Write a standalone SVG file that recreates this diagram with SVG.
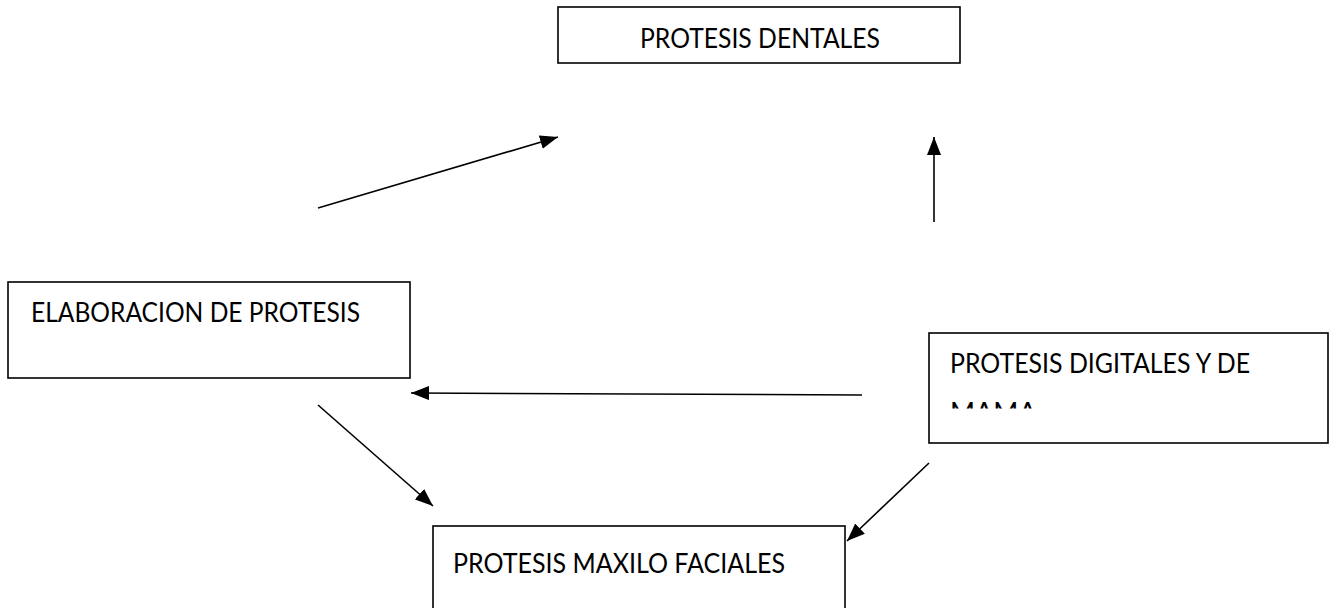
<svg xmlns="http://www.w3.org/2000/svg" width="1330" height="608" viewBox="0 0 1330 608">
<style>
.box{fill:#fff;stroke:#000;stroke-width:1.6}
.lbl{font-family:Lato,"Liberation Sans",sans-serif;font-size:27px;fill:#000}
.conn{stroke:#000;stroke-width:1.6;fill:none}
</style>
<defs>
<marker id="ah" markerUnits="userSpaceOnUse" markerWidth="20" markerHeight="14" refX="18" refY="7" orient="auto">
<path d="M0,0 L18,7 L0,14 Z" fill="#000"/>
</marker>
<clipPath id="c3"><rect x="930" y="334" width="398" height="74.5"/></clipPath>
</defs>
<rect width="1330" height="608" fill="#fff"/>
<g id="n1">
<rect class="box" x="558" y="7" width="402" height="56"/>
<text class="lbl" x="640" y="48" textLength="240" lengthAdjust="spacingAndGlyphs">PROTESIS DENTALES</text>
</g>
<g id="n2">
<rect class="box" x="8" y="282" width="402" height="96"/>
<text class="lbl" x="31" y="322" textLength="329" lengthAdjust="spacingAndGlyphs">ELABORACION DE PROTESIS</text>
</g>
<g id="n3">
<rect class="box" x="929" y="333" width="399" height="110"/>
<g clip-path="url(#c3)">
<text class="lbl" x="950" y="373" textLength="300" lengthAdjust="spacingAndGlyphs">PROTESIS DIGITALES Y DE</text>
<text class="lbl" x="950" y="422">MAMA</text>
</g>
</g>
<g id="n4">
<rect class="box" x="433" y="526" width="412" height="100"/>
<text class="lbl" x="453" y="573" textLength="332" lengthAdjust="spacingAndGlyphs">PROTESIS MAXILO FACIALES</text>
</g>
<g id="connectors">
<line class="conn" x1="318" y1="208" x2="558" y2="137" marker-end="url(#ah)"/>
<line class="conn" x1="934" y1="222" x2="934" y2="137" marker-end="url(#ah)"/>
<line class="conn" x1="862" y1="395" x2="411" y2="393" marker-end="url(#ah)"/>
<line class="conn" x1="318" y1="405" x2="433" y2="506" marker-end="url(#ah)"/>
<line class="conn" x1="929" y1="463" x2="847" y2="541" marker-end="url(#ah)"/>
</g>
</svg>
